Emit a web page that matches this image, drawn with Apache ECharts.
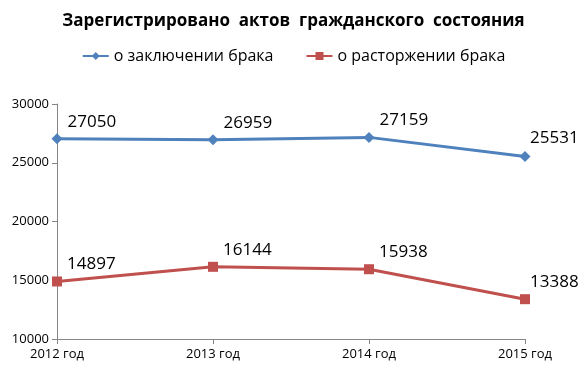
<!DOCTYPE html>
<html><head><meta charset="utf-8">
<script src="https://cdn.jsdelivr.net/npm/echarts@6/dist/echarts.min.js"></script>
<style>html,body{margin:0;padding:0;background:#fff}#c{width:587px;height:380px}</style>
</head><body><div id="c"></div>
<script>
const categories = ['2012 год', '2013 год', '2014 год', '2015 год'];
const marriages = [27050, 26959, 27159, 25531];
const divorces = [14897, 16144, 15938, 13388];
const yTicks = [10000, 15000, 20000, 25000, 30000];

const F = '"Open Sans", "DejaVu Sans", sans-serif';
function labelled(vals) {
  return vals.map((v, i) => ({
    value: v,
    label: i === vals.length - 1
      ? { position: 'top', align: 'left', offset: [5, 1] }
      : { position: 'right', offset: [0, -17] }
  }));
}
const chart = echarts.init(document.getElementById('c'), null, { renderer: 'canvas' });
chart.setOption({
  animation: false,
  title: {
    text: 'Зарегистрировано  актов  гражданского  состояния',
    left: 'center', top: 8,
    textStyle: { fontFamily: F, fontSize: 17, fontWeight: 'bold', color: '#000' }
  },
  legend: {
    top: 43, left: 'center', itemGap: 32, itemWidth: 26, itemHeight: 10,
    textStyle: { fontFamily: F, fontSize: 16, color: '#000' },
    data: ['о заключении брака', 'о расторжении брака']
  },
  grid: { left: 57, right: 62, top: 104, bottom: 41 },
  xAxis: {
    type: 'category', data: categories, boundaryGap: false,
    axisLine: { lineStyle: { color: '#868686' } },
    axisTick: { show: true, alignWithLabel: true, length: 5, lineStyle: { color: '#868686' } },
    axisLabel: { fontFamily: F, fontSize: 13, color: '#000', margin: 9 }
  },
  yAxis: {
    type: 'value', min: yTicks[0], max: yTicks[yTicks.length - 1], interval: 5000,
    axisLine: { show: true, lineStyle: { color: '#868686' } },
    axisTick: { show: true, length: 5, lineStyle: { color: '#868686' } },
    splitLine: { show: false },
    axisLabel: { fontFamily: F, fontSize: 13, color: '#000', margin: 8, formatter: v => String(v) }
  },
  series: [
    {
      name: 'о заключении брака', type: 'line', data: labelled(marriages),
      symbol: 'diamond', symbolSize: 11,
      lineStyle: { color: '#4F81BD', width: 3 },
      itemStyle: { color: '#4F81BD' },
      label: { show: true, fontFamily: F, fontSize: 17, color: '#000' }
    },
    {
      name: 'о расторжении брака', type: 'line', data: labelled(divorces),
      symbol: 'rect', symbolSize: 10,
      lineStyle: { color: '#C0504D', width: 3 },
      itemStyle: { color: '#C0504D' },
      label: { show: true, fontFamily: F, fontSize: 17, color: '#000' }
    }
  ]
});
</script></body></html>
